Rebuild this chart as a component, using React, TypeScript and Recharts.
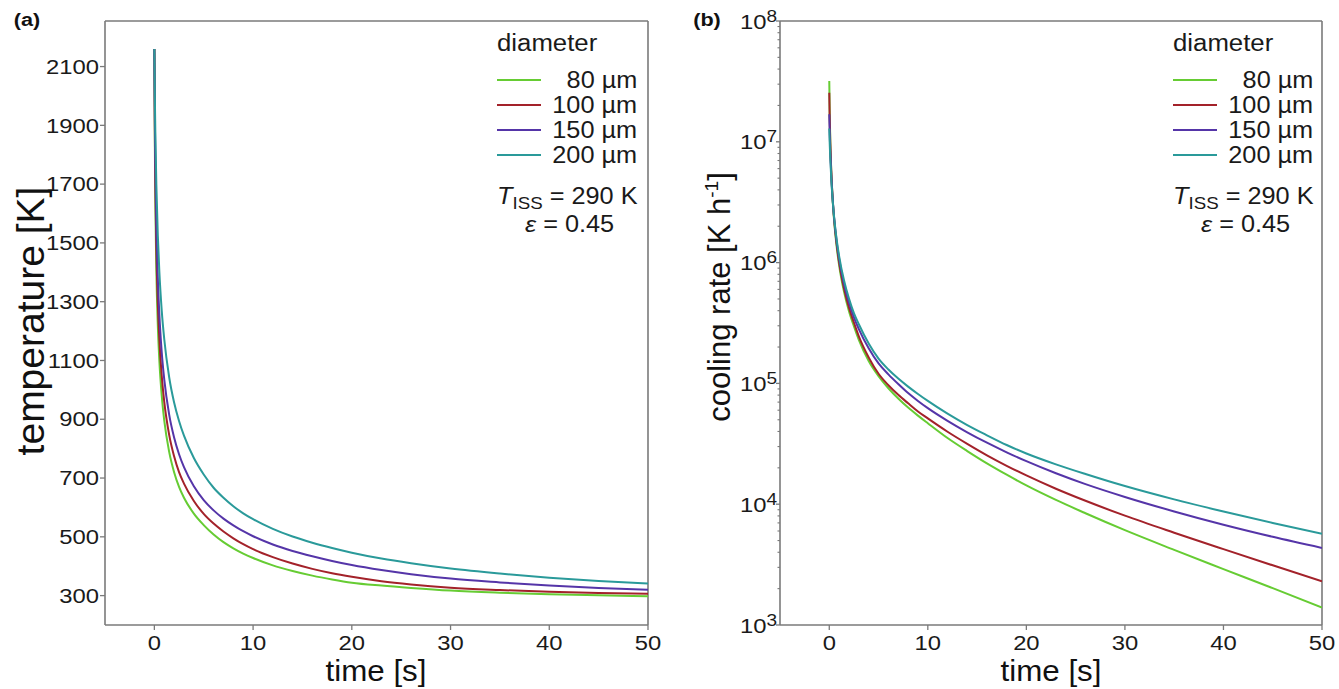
import React from 'react'
import { LineChart, Line, XAxis, YAxis, ReferenceLine } from 'recharts'

// time points [s]
const TIME = [0, 0.05, 0.1, 0.2, 0.35, 0.5, 0.75, 1, 1.5, 2, 2.5, 3, 4, 5, 6, 7, 8, 9, 10, 12, 14, 16, 18, 20, 23, 26, 30, 35, 40, 45, 50]

// (a) temperature [K]
const TEMP_80 = [2160, 1826, 1635, 1408, 1219, 1103, 979, 896, 789, 720, 670, 633, 579, 540, 508, 482, 461, 443, 428, 403, 384, 368, 355, 344, 334, 326, 317, 310, 305, 301, 298]
const TEMP_100 = [2160, 1876, 1702, 1484, 1295, 1176, 1047, 960, 847, 774, 720, 681, 622, 578, 545, 518, 495, 475, 458, 431, 409, 391, 376, 364, 349, 338, 327, 319, 313, 309, 306]
const TEMP_150 = [2160, 1926, 1771, 1567, 1381, 1260, 1126, 1036, 916, 838, 781, 737, 672, 625, 590, 562, 539, 519, 502, 474, 452, 434, 418, 404, 387, 373, 358, 345, 334, 326, 320]
const TEMP_200 = [2160, 1996, 1874, 1699, 1525, 1405, 1268, 1173, 1043, 957, 894, 844, 768, 712, 667, 633, 604, 580, 560, 527, 501, 480, 462, 446, 426, 410, 392, 375, 361, 350, 341]

// (b) cooling rate [K h-1]
const RATE_80 = [3.18e7, 1.638e7, 1.054e7, 5.81e6, 3.26e6, 2.18e6, 1.353e6, 9.51e5, 5.72e5, 3.96e5, 2.97e5, 2.29e5, 1.531e5, 1.148e5, 9.12e4, 7.5e4, 6.31e4, 5.41e4, 4.68e4, 3.53e4, 2.754e4, 2.178e4, 1.754e4, 1.429e4, 1.084e4, 8414, 6095, 4188, 2904, 2018, 1396]
const RATE_100 = [2.55e7, 1.466e7, 9.92e6, 5.74e6, 3.33e6, 2.26e6, 1.42e6, 1.006e6, 6.1e5, 4.24e5, 3.19e5, 2.455e5, 1.641e5, 1.202e5, 9.66e4, 8.04e4, 6.84e4, 5.86e4, 5.13e4, 3.98e4, 3.16e4, 2.54e4, 2.08e4, 1.73e4, 1.343e4, 1.067e4, 8035, 5808, 4246, 3119, 2301]
const RATE_150 = [1.69e7, 1.138e7, 8.4e6, 5.32e6, 3.29e6, 2.31e6, 1.492e6, 1.074e6, 6.62e5, 4.65e5, 3.52e5, 2.818e5, 1.95e5, 1.462e5, 1.189e5, 9.89e4, 8.32e4, 7.16e4, 6.24e4, 4.9e4, 3.94e4, 3.23e4, 2.69e4, 2.27e4, 1.803e4, 1.466e4, 1.148e4, 8710, 6761, 5370, 4345]
const RATE_200 = [1.29e7, 9.48e6, 7.38e6, 4.99e6, 3.24e6, 2.34e6, 1.551e6, 1.133e6, 7.1e5, 5.03e5, 3.82e5, 3.09e5, 2.138e5, 1.603e5, 1.303e5, 1.096e5, 9.4e4, 8.17e4, 7.16e4, 5.62e4, 4.52e4, 3.72e4, 3.09e4, 2.63e4, 2.138e4, 1.778e4, 1.413e4, 1.096e4, 8710, 7000, 5689]

const SERIES = ['d80', 'd100', 'd150', 'd200']
const DIAMETERS = ['80 µm', '100 µm', '150 µm', '200 µm']
const COLORS = ['#66cc33', '#a3222a', '#5535a8', '#2a9a9a']

const TIME_TICKS = [0, 10, 20, 30, 40, 50]
const TEMP_TICKS = [300, 500, 700, 900, 1100, 1300, 1500, 1700, 1900, 2100]
const RATE_TICKS = [
  1e3, 2e3, 3e3, 4e3, 5e3, 6e3, 7e3, 8e3, 9e3,
  1e4, 2e4, 3e4, 4e4, 5e4, 6e4, 7e4, 8e4, 9e4,
  1e5, 2e5, 3e5, 4e5, 5e5, 6e5, 7e5, 8e5, 9e5,
  1e6, 2e6, 3e6, 4e6, 5e6, 6e6, 7e6, 8e6, 9e6,
  1e7, 2e7, 3e7, 4e7, 5e7, 6e7, 7e7, 8e7, 9e7,
  1e8,
]

const FONT = '"Liberation Sans", Arial, Helvetica, sans-serif'
const AXIS = '#7a7a7a'
const INK = '#1a1a1a'
const SX = 1.19

const tempData = TIME.map((t, i) => ({ t, d80: TEMP_80[i], d100: TEMP_100[i], d150: TEMP_150[i], d200: TEMP_200[i] }))
const rateData = TIME.map((t, i) => ({ t, d80: RATE_80[i], d100: RATE_100[i], d150: RATE_150[i], d200: RATE_200[i] }))

function TimeTick({ x, y, payload }: any) {
  return (
    <g>
      <line x1={x} x2={x} y1={y} y2={y + 5} stroke={AXIS} strokeWidth={1.3} />
      <text transform={`translate(${x},${y + 18}) scale(${SX},1)`} textAnchor="middle" dy="0.36em"
        fontSize={20} fill={INK} fontFamily={FONT}>{payload.value}</text>
    </g>
  )
}

function TempTick({ x, y, payload }: any) {
  return (
    <g>
      <line x1={x - 5} x2={x} y1={y} y2={y} stroke={AXIS} strokeWidth={1.3} />
      <text transform={`translate(${x - 6},${y}) scale(${SX},1)`} textAnchor="end" dy="0.36em"
        fontSize={20} fill={INK} fontFamily={FONT}>{payload.value}</text>
    </g>
  )
}

function RateTick({ x, y, payload }: any) {
  const lg = Math.log10(payload.value)
  const e = Math.round(lg)
  if (Math.abs(lg - e) > 1e-6) {
    return <line x1={x - 2.5} x2={x} y1={y} y2={y} stroke={AXIS} strokeWidth={1.1} />
  }
  return (
    <g>
      <line x1={x - 4} x2={x} y1={y} y2={y} stroke={AXIS} strokeWidth={1.3} />
      <text transform={`translate(${x - 3},${y}) scale(${SX},1)`} textAnchor="end"
        fontSize={20} fill={INK} fontFamily={FONT}>
        <tspan dy={7.5}>10</tspan>
        <tspan fontSize={16} dy={-7}>{e}</tspan>
      </text>
    </g>
  )
}

function Key({ left, right }: { left: number; right: number }) {
  const base = { position: 'absolute' as const, fontSize: 23, lineHeight: 1, whiteSpace: 'nowrap' as const, color: INK }
  return (
    <div style={{ position: 'absolute', left, top: 0, width: right - left, height: 240 }}>
      <div style={{ ...base, left: 0, top: 31.5, transform: 'scaleX(1.12)', transformOrigin: 'left' }}>diameter</div>
      {DIAMETERS.map((d, i) => {
        const ly = 79.5 + 25.2 * i
        return (
          <React.Fragment key={d}>
            <div style={{ position: 'absolute', left: 0, top: ly - 1, width: 44, height: 2, background: COLORS[i] }} />
            <div style={{ ...base, right: 0, top: ly - 10.8, transform: 'scaleX(1.1)', transformOrigin: 'right' }}>{d}</div>
          </React.Fragment>
        )
      })}
      <div style={{ ...base, left: 0, top: 185, transform: 'scaleX(1.1)', transformOrigin: 'left' }}>
        <i>T</i><span style={{ fontSize: 17, position: 'relative', top: 5 }}>ISS</span> = 290 K
      </div>
      <div style={{ ...base, left: 28, top: 213, transform: 'scaleX(1.1)', transformOrigin: 'left' }}>
        <i>ε</i> = 0.45
      </div>
    </div>
  )
}

function Panel({ data, width, margin, yAxis, yTop }: any) {
  return (
    <LineChart width={width} height={689} data={data} margin={margin}>
      <XAxis dataKey="t" type="number" domain={[-5, 50]} allowDataOverflow ticks={TIME_TICKS} interval={0}
        tickSize={0} tickMargin={0} tick={<TimeTick />} axisLine={{ stroke: AXIS, strokeWidth: 1.6 }} height={30} />
      {yAxis}
      <ReferenceLine y={yTop} stroke={AXIS} strokeWidth={1.4} />
      <ReferenceLine x={50} stroke={AXIS} strokeWidth={1.6} />
      {SERIES.map((k, i) => (
        <Line key={k} dataKey={k} name={DIAMETERS[i]} type="monotone" stroke={COLORS[i]} strokeWidth={2}
          dot={false} activeDot={false} isAnimationActive={false} />
      ))}
    </LineChart>
  )
}

export default function App() {
  const title = { position: 'absolute' as const, whiteSpace: 'nowrap' as const, lineHeight: 1, color: '#111' }
  return (
    <div style={{ position: 'absolute', left: 0, top: 0, width: 1339, height: 689, background: '#fff', fontFamily: FONT, overflow: 'hidden' }}>
      <div style={{ position: 'absolute', left: 0, top: 0 }}>
        <Panel data={tempData} width={670} margin={{ top: 21, right: 22, bottom: 34, left: 45 }} yTop={2255}
          yAxis={
            <YAxis type="number" domain={[200, 2255]} allowDataOverflow ticks={TEMP_TICKS} interval={0} width={60}
              tickSize={0} tickMargin={0} tick={<TempTick />} axisLine={{ stroke: AXIS, strokeWidth: 1.6 }} />
          } />
      </div>
      <div style={{ position: 'absolute', left: 670, top: 0 }}>
        <Panel data={rateData} width={669} margin={{ top: 21, right: 17, bottom: 34, left: 50 }} yTop={1e8}
          yAxis={
            <YAxis type="number" scale="log" domain={[1e3, 1e8]} allowDataOverflow ticks={RATE_TICKS} interval={0} width={60}
              tickSize={0} tickMargin={0} tick={<RateTick />} axisLine={{ stroke: AXIS, strokeWidth: 1.6 }} />
          } />
      </div>

      <Key left={497} right={637} />
      <Key left={1173} right={1313} />

      <div style={{ ...title, left: 27, top: 20, fontSize: 18, fontWeight: 700, transform: 'translate(-50%,-50%) scaleX(1.2)' }}>(a)</div>
      <div style={{ ...title, left: 707, top: 20, fontSize: 18, fontWeight: 700, transform: 'translate(-50%,-50%) scaleX(1.2)' }}>(b)</div>

      <div style={{ ...title, left: 30, top: 321, fontSize: 39, transform: 'translate(-50%,-50%) rotate(-90deg)' }}>temperature [K]</div>
      <div style={{ ...title, left: 719, top: 297, fontSize: 31, transform: 'translate(-50%,-50%) rotate(-90deg)' }}>
        cooling rate [K h<span style={{ fontSize: 19, position: 'relative', top: -12 }}>-1</span>]
      </div>

      <div style={{ ...title, left: 376, top: 671, fontSize: 29, transform: 'translate(-50%,-50%) scaleX(1.08)' }}>time [s]</div>
      <div style={{ ...title, left: 1051, top: 671, fontSize: 29, transform: 'translate(-50%,-50%) scaleX(1.08)' }}>time [s]</div>
    </div>
  )
}
